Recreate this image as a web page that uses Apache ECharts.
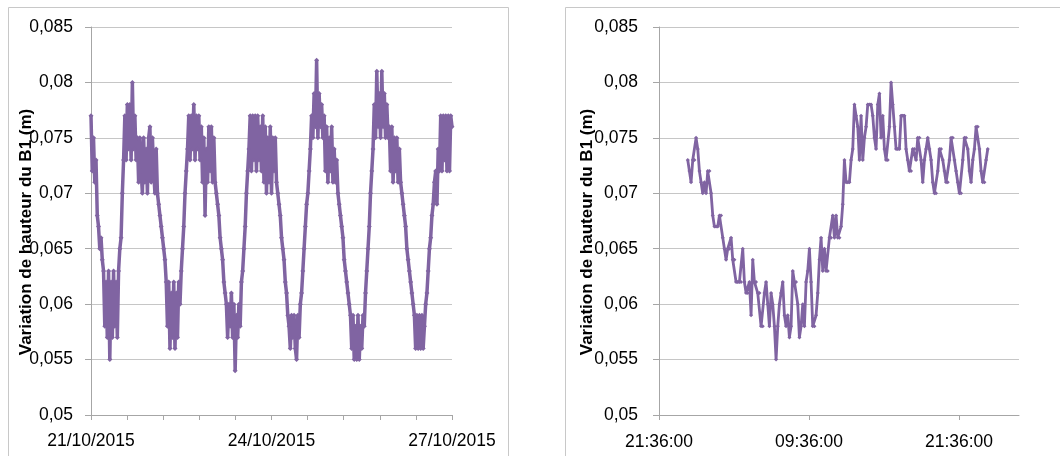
<!DOCTYPE html>
<html>
<head>
<meta charset="utf-8">
<script src="https://cdn.jsdelivr.net/npm/echarts@6/dist/echarts.min.js"></script>
<style>
html,body{margin:0;padding:0;background:#fff;}
#c{width:1060px;height:456px;}
</style>
</head>
<body>
<div id="c"></div>
<script>
// ---- data ----
const yTitle = 'Variation de hauteur du B1 (m)';
const leftTickValues = [0, 3, 6];                 // days since 21/10/2015 00:00
const leftTickLabels = ['21/10/2015', '24/10/2015', '27/10/2015'];
const rightTickValues = [0, 12, 24];              // hours since 21:36:00
const rightTickLabels = ['21:36:00', '09:36:00', '21:36:00'];
const leftStepDays = 0.5 / 24;                    // 30 min sampling
const rightStartHours = 2.3;                      // 23:54
const rightStepHours = 8 / 60;                    // 8 min sampling

const leftValues = [
// 0-9
0.077,0.072,0.075,0.071,0.073,0.068,0.067,0.065,0.066,0.064,
// 10-19
0.063,0.058,0.062,0.057,0.063,0.055,0.062,0.057,0.063,0.058,
// 20-29
0.062,0.057,0.063,0.065,0.066,0.070,0.073,0.077,0.073,0.078,
// 30-39
0.074,0.078,0.073,0.080,0.074,0.077,0.073,0.075,0.071,0.075,
// 40-49
0.072,0.070,0.075,0.071,0.074,0.070,0.075,0.076,0.071,0.075,
// 50-59
0.072,0.070,0.074,0.070,0.069,0.068,0.067,0.066,0.065,0.064,
// 60-69
0.062,0.058,0.062,0.056,0.061,0.057,0.062,0.056,0.061,0.057,
// 70-79
0.062,0.060,0.063,0.065,0.067,0.070,0.072,0.074,0.077,0.073,
// 80-89
0.077,0.074,0.078,0.073,0.077,0.074,0.077,0.073,0.076,0.071,
// 90-99
0.075,0.068,0.074,0.071,0.076,0.072,0.076,0.071,0.075,0.071,
// 100-109
0.070,0.069,0.068,0.066,0.065,0.064,0.062,0.061,0.060,0.057,
// 110-119
0.060,0.058,0.061,0.057,0.060,0.054,0.059,0.057,0.060,0.058,
// 120-129
0.062,0.063,0.065,0.067,0.070,0.072,0.074,0.077,0.072,0.077,
// 130-139
0.073,0.077,0.072,0.077,0.073,0.076,0.072,0.077,0.071,0.076,
// 140-149
0.070,0.075,0.071,0.076,0.070,0.075,0.072,0.075,0.071,0.070,
// 150-159
0.069,0.068,0.066,0.065,0.064,0.062,0.061,0.059,0.058,0.056,
// 160-169
0.059,0.057,0.059,0.056,0.055,0.059,0.057,0.060,0.061,0.063,
// 170-179
0.065,0.067,0.069,0.070,0.072,0.074,0.077,0.075,0.079,0.076,
// 180-189
0.082,0.075,0.079,0.076,0.078,0.075,0.077,0.072,0.076,0.071,
// 190-199
0.075,0.072,0.076,0.071,0.074,0.071,0.073,0.070,0.069,0.068,
// 200-209
0.067,0.066,0.064,0.063,0.062,0.061,0.060,0.059,0.056,0.059,
// 210-219
0.055,0.058,0.055,0.059,0.055,0.058,0.056,0.059,0.058,0.061,
// 220-229
0.063,0.065,0.067,0.070,0.072,0.074,0.078,0.075,0.081,0.076,
// 230-239
0.079,0.075,0.081,0.076,0.079,0.075,0.078,0.075,0.076,0.072,
// 240-249
0.076,0.071,0.075,0.072,0.075,0.071,0.074,0.071,0.070,0.069,
// 250-259
0.068,0.067,0.065,0.064,0.063,0.062,0.061,0.060,0.059,0.056,
// 260-269
0.059,0.056,0.059,0.056,0.059,0.056,0.058,0.060,0.061,0.063,
// 270-279
0.065,0.066,0.068,0.069,0.071,0.072,0.069,0.074,0.072,0.077,
// 280-288
0.072,0.077,0.073,0.077,0.072,0.077,0.072,0.077,0.076
];

const rightValues = [
0.073,0.072,0.071,0.073,0.073,0.075,0.074,0.072,0.071,0.070,
0.071,0.070,0.072,0.072,0.070,0.068,0.067,0.067,0.067,0.068,
0.068,0.066,0.065,0.064,0.065,0.065,0.066,0.064,0.064,0.062,
0.062,0.062,0.062,0.065,0.062,0.061,0.061,0.062,0.059,0.064,
0.062,0.062,0.061,0.061,0.058,0.058,0.061,0.062,0.060,0.058,
0.061,0.060,0.058,0.055,0.058,0.060,0.061,0.062,0.059,0.058,
0.059,0.057,0.058,0.063,0.062,0.062,0.060,0.057,0.058,0.060,
0.058,0.062,0.063,0.065,0.062,0.058,0.058,0.059,0.061,0.064,
0.066,0.063,0.065,0.063,0.063,0.066,0.066,0.068,0.066,0.068,
0.066,0.066,0.067,0.069,0.073,0.071,0.071,0.071,0.073,0.074,
0.078,0.077,0.076,0.073,0.077,0.073,0.075,0.076,0.078,0.078,
0.078,0.077,0.075,0.074,0.078,0.079,0.075,0.077,0.074,0.073,
0.073,0.076,0.080,0.078,0.076,0.074,0.074,0.074,0.077,0.077,
0.077,0.074,0.073,0.072,0.072,0.074,0.074,0.073,0.075,0.075,
0.073,0.071,0.073,0.074,0.075,0.074,0.073,0.071,0.070,0.070,
0.072,0.074,0.074,0.073,0.072,0.071,0.071,0.073,0.075,0.075,
0.073,0.072,0.071,0.070,0.070,0.073,0.075,0.075,0.074,0.072,
0.071,0.073,0.074,0.076,0.076,0.074,0.072,0.071,0.071,0.073,
0.074
];

// ---- build ----
const leftData = leftValues.map((v, i) => [i * leftStepDays, v]);
const rightData = rightValues.map((v, i) => [rightStartHours + i * rightStepHours, v]);

const FONT = '"Liberation Sans", Arial, sans-serif';
const LINE = '#8064A2';
const GRID = '#c6c6c6';
const AXIS = '#a6a6a6';

function labelFrom(values, labels) {
  return function (v) {
    for (let k = 0; k < values.length; k++) {
      if (Math.abs(v - values[k]) < 1e-6) return labels[k];
    }
    return '';
  };
}

function yAxis(gridIndex, margin, nameGap) {
  return {
    type: 'value', gridIndex: gridIndex,
    min: 0.05, max: 0.085, interval: 0.005,
    name: yTitle, nameLocation: 'middle', nameRotate: 90, nameGap: nameGap,
    nameMoveOverlap: false,
    nameTextStyle: { fontFamily: FONT, fontSize: 17, fontWeight: 'bold', color: '#000', padding: [0, 22, 0, 0] },
    axisLine: { show: true, lineStyle: { color: AXIS, width: 1 } },
    axisTick: { show: true, length: 6, lineStyle: { color: AXIS } },
    axisLabel: {
      margin: margin, fontFamily: FONT, fontSize: 17.5, color: '#000',
      formatter: v => String(+v.toFixed(3)).replace('.', ',')
    },
    splitLine: { show: true, lineStyle: { color: GRID, width: 1 } }
  };
}

const chart = echarts.init(document.getElementById('c'), null, { renderer: 'canvas' });
chart.setOption({
  animation: false,
  backgroundColor: '#fff',
  graphic: [
    { type: 'rect', shape: { x: 8.5, y: 7.5, width: 500, height: 470 }, style: { fill: 'none', stroke: '#c8c8c8', lineWidth: 1 }, silent: true },
    { type: 'rect', shape: { x: 565.5, y: 7.5, width: 520, height: 470 }, style: { fill: 'none', stroke: '#c8c8c8', lineWidth: 1 }, silent: true }
  ],
  grid: [
    { left: 91, top: 27, width: 361, height: 388, outerBoundsMode: 'none', containLabel: false },
    { left: 659, top: 27, width: 360, height: 388, outerBoundsMode: 'none', containLabel: false }
  ],
  xAxis: [
    {
      type: 'value', gridIndex: 0, min: 0, max: 6, interval: 0.6,
      axisLine: { show: true, lineStyle: { color: AXIS, width: 1 } },
      axisTick: { show: true, length: 5, lineStyle: { color: AXIS } },
      axisLabel: {
        customValues: leftTickValues, margin: 17,
        fontFamily: FONT, fontSize: 17.5, color: '#000',
        formatter: labelFrom(leftTickValues, leftTickLabels)
      },
      splitLine: { show: false }
    },
    {
      type: 'value', gridIndex: 1, min: 0, max: 28.8,
      axisLine: { show: true, lineStyle: { color: AXIS, width: 1 } },
      axisTick: { show: true, length: 5, customValues: rightTickValues, lineStyle: { color: AXIS } },
      axisLabel: {
        customValues: rightTickValues, margin: 18,
        fontFamily: FONT, fontSize: 17.5, color: '#000',
        formatter: labelFrom(rightTickValues, rightTickLabels)
      },
      splitLine: { show: false }
    }
  ],
  yAxis: [ yAxis(0, 18, 56), yAxis(1, 21, 63) ],
  series: [
    {
      type: 'line', xAxisIndex: 0, yAxisIndex: 0, data: leftData,
      symbol: 'diamond', symbolSize: 5, showSymbol: true,
      lineStyle: { color: LINE, width: 3.5 }, itemStyle: { color: LINE },
      emphasis: { disabled: true }
    },
    {
      type: 'line', xAxisIndex: 1, yAxisIndex: 1, data: rightData,
      symbol: 'diamond', symbolSize: 4, showSymbol: true,
      lineStyle: { color: LINE, width: 2.8 }, itemStyle: { color: LINE },
      emphasis: { disabled: true }
    }
  ]
});
</script>
</body>
</html>
